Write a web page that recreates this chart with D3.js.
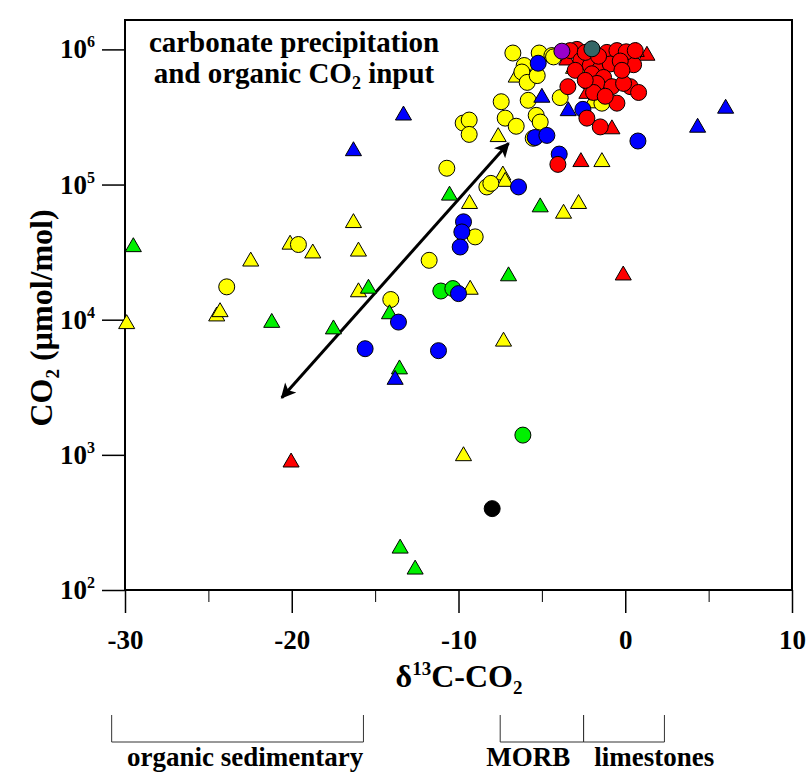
<!DOCTYPE html>
<html>
<head>
<meta charset="UTF-8">
<title>CO2 vs d13C-CO2</title>
<script src="https://cdn.jsdelivr.net/npm/d3@7/dist/d3.min.js"></script>
<style>
    body { margin: 0; background: #fff; }
    text { font-family: "Liberation Serif", "Times New Roman", serif; font-weight: bold; fill: #000; }
</style>
</head>
<body>
<div id="chart"></div>
<script>
    // axis ticks
    const xTicks = [-30, -20, -10, 0, 10];
    const xMinorTicks = [-25, -15, -5, 5];
    const yTickExponents = [2, 3, 4, 5, 6];

    // samples: [d13C, CO2 umol/mol]
    const yellowTriangles = [
        [-29.9, 9.3e3], [-24.5, 1.06e4], [-24.3, 1.14e4], [-22.46, 2.7e4], [-20.1, 3.6e4],
        [-18.74, 3.1e4], [-16.3, 5.2e4], [-16.0, 3.2e4], [-16.0, 1.6e4], [-9.3, 1.67e4],
        [-7.3, 6.9e3], [-9.7, 980], [-9.34, 7.2e4], [-7.34, 1.17e5], [-7.2, 1.05e5],
        [-3.7, 6.1e4], [-2.8, 7.2e4], [-1.4, 1.47e5], [-7.62, 2.25e5], [-6.54, 6.2e5],
        [-3.1, 7.2e5], [-2.0, 4.0e5]
    ];
    const yellowCircles = [
        [-6.74, 9.4e5], [-5.16, 9.4e5], [-4.40, 9.0e5], [-6.06, 7.6e5], [-6.20, 6.8e5],
        [-5.88, 5.7e5], [-5.28, 6.4e5], [-5.82, 4.2e5], [-7.44, 4.1e5], [-7.20, 3.1e5],
        [-6.54, 2.7e5], [-5.34, 3.25e5], [-5.10, 2.9e5], [-5.52, 2.2e5], [-9.72, 2.85e5],
        [-9.36, 3.0e5], [-9.36, 2.35e5], [-3.90, 4.4e5], [-1.40, 4.0e5], [-10.70, 1.32e5],
        [-4.30, 8.8e5], [-2.70, 7.0e5], [-8.30, 9.6e4], [-8.06, 1.02e5], [-9.0, 4.1e4],
        [-11.76, 2.75e4], [-14.06, 1.41e4], [-19.6, 3.6e4], [-23.9, 1.75e4]
    ];
    const greenTriangles = [
        [-29.5, 3.45e4], [-21.2, 9.5e3], [-15.4, 1.7e4], [-17.5, 8.5e3], [-14.14, 1.1e4],
        [-13.54, 4.3e3], [-7.0, 2.1e4], [-5.1, 6.8e4], [-10.54, 8.3e4], [-13.5, 203], [-12.6, 142]
    ];
    const greenCircles = [[-11.06, 1.63e4], [-10.34, 1.7e4], [-6.14, 1.4e3]];
    const blueTriangles = [
        [-13.3, 3.25e5], [-16.3, 1.77e5], [-5.0, 4.4e5], [-3.42, 3.5e5], [4.34, 2.64e5],
        [6.02, 3.65e5], [-13.8, 3.6e3]
    ];
    const blueCircles = [
        [-5.22, 7.9e5], [-2.54, 3.6e5], [-5.4, 2.23e5], [-4.7, 2.31e5], [-3.96, 1.68e5],
        [0.76, 2.1e5], [-6.4, 9.6e4], [-9.7, 5.3e4], [-9.8, 4.46e4], [-9.9, 3.45e4],
        [-10.0, 1.56e4], [-13.6, 9.6e3], [-15.6, 6.1e3], [-11.2, 5.9e3], [-2.22, 5.7e5]
    ];
    const redTriangles = [
        [-20.04, 880], [-0.12, 2.13e4], [-2.66, 1.47e5], [-0.8, 2.57e5], [1.3, 9.0e5],
        [-1.7, 4.6e5], [-2.3, 4.7e5], [0.66, 9.6e5], [-3.5, 8.3e5]
    ];
    const redCircles = [
        [-4.04, 1.41e5], [-3.44, 5.3e5], [-2.30, 3.1e5], [-1.5, 2.67e5], [-0.5, 4.0e5],
        [0.3, 5.3e5], [0.8, 4.8e5], [0.5, 7.7e5], [-2.9, 1.0e6], [-1.1, 9.5e5],
        [-0.5, 9.8e5], [0.06, 9.6e5], [0.6, 9.8e5], [-3.3, 9.8e5], [-2.66, 8.3e5],
        [-2.1, 7.6e5], [-1.5, 7.2e5], [-0.9, 7.8e5], [-2.0, 6.6e5], [-1.3, 6.2e5],
        [-1.7, 5.6e5], [-0.8, 5.3e5], [-0.1, 5.6e5], [-1.9, 4.8e5], [-2.4, 9.5e5],
        [-1.6, 8.9e5], [-0.3, 8.2e5], [-3.0, 7.0e5], [-1.2, 4.5e5], [-0.2, 7.0e5], [-2.4, 5.9e5]
    ];
    const blackCircles = [[-7.98, 400]];
    const purpleCircles = [[-3.8, 9.7e5]];
    const tealCircles = [[-2.0, 1.01e6]];

    // trend arrow ends
    const arrowEnds = [[-20.6, 2650], [-7.0, 2.02e5]];

    // source ranges under the axis
    const bracketSpans = [[-30.8, -15.7], [-7.5, -2.5], [-2.5, 2.35]];
    const sourceLabels = [
        {text: "organic sedimentary", x: -22.8},
        {text: "MORB", x: -5.82},
        {text: "limestones", x: 1.74}
    ];

    const svgWidth = 808, svgHeight = 776;
    const plotLeft = 125, plotRight = 792, plotTop = 20, plotBottom = 590;

    const svg = d3.select("#chart").append("svg")
        .attr("width", svgWidth)
        .attr("height", svgHeight);

    const x = d3.scaleLinear().domain([-30, 10]).range([plotLeft, plotRight]);
    const y = d3.scaleLog().domain([100, 1.65e6]).range([plotBottom, plotTop]);

    // bottom axis, major + minor ticks
    const xAxis = svg.append("g")
        .attr("transform", `translate(0,${plotBottom})`)
        .call(d3.axisBottom(x).tickValues(xTicks).tickSize(23).tickSizeOuter(0)
            .tickPadding(17).tickFormat(d => String(d)));
    xAxis.select(".domain").remove();
    xAxis.selectAll("line").attr("stroke-width", 1.5);
    xAxis.selectAll("text").attr("font-size", 27).attr("font-family", null);

    const xMinor = svg.append("g")
        .attr("transform", `translate(0,${plotBottom})`)
        .call(d3.axisBottom(x).tickValues(xMinorTicks).tickSize(12).tickFormat(""));
    xMinor.select(".domain").remove();
    xMinor.selectAll("line").attr("stroke-width", 1);

    // left axis, log decades
    const yAxis = svg.append("g")
        .attr("transform", `translate(${plotLeft},0)`)
        .call(d3.axisLeft(y).tickValues(yTickExponents.map(e => Math.pow(10, e)))
            .tickSize(23).tickSizeOuter(0).tickFormat(""));
    yAxis.select(".domain").remove();
    yAxis.selectAll("line").attr("stroke-width", 1.5);

    const yLabels = svg.append("g").selectAll("text")
        .data(yTickExponents)
        .enter().append("text")
        .attr("x", 95)
        .attr("y", e => y(Math.pow(10, e)) + 9)
        .attr("text-anchor", "end")
        .attr("font-size", 27);
    yLabels.append("tspan").text("10");
    yLabels.append("tspan").attr("dy", -11).attr("font-size", 16).text(e => e);

    // frame
    svg.append("rect")
        .attr("x", plotLeft).attr("y", plotTop)
        .attr("width", plotRight - plotLeft).attr("height", plotBottom - plotTop)
        .attr("fill", "none").attr("stroke", "#000").attr("stroke-width", 2);

    // arrow
    const defs = svg.append("defs");
    defs.append("marker")
        .attr("id", "head")
        .attr("viewBox", "0 0 10 10")
        .attr("refX", 9).attr("refY", 5)
        .attr("markerWidth", 6).attr("markerHeight", 5)
        .attr("markerUnits", "strokeWidth")
        .attr("orient", "auto-start-reverse")
        .append("path").attr("d", "M0,0 L10,5 L0,10 L2.5,5 Z").attr("fill", "#000");

    svg.append("line")
        .attr("x1", x(arrowEnds[0][0])).attr("y1", y(arrowEnds[0][1]))
        .attr("x2", x(arrowEnds[1][0])).attr("y2", y(arrowEnds[1][1]))
        .attr("stroke", "#000").attr("stroke-width", 3)
        .attr("marker-start", "url(#head)").attr("marker-end", "url(#head)");

    // markers
    const triangle = d3.symbol().type(d3.symbolTriangle).size(112);
    const series = [
        {data: yellowTriangles, shape: "tri", fill: "#ffff00"},
        {data: yellowCircles, shape: "circle", fill: "#ffff00"},
        {data: greenTriangles, shape: "tri", fill: "#00f000"},
        {data: greenCircles, shape: "circle", fill: "#00f000"},
        {data: blueTriangles, shape: "tri", fill: "#0000ff"},
        {data: blueCircles, shape: "circle", fill: "#0000ff"},
        {data: redTriangles, shape: "tri", fill: "#ff0000"},
        {data: redCircles, shape: "circle", fill: "#ff0000"},
        {data: blackCircles, shape: "circle", fill: "#000000"},
        {data: purpleCircles, shape: "circle", fill: "#9900cc"},
        {data: tealCircles, shape: "circle", fill: "#336666"}
    ];

    const marks = svg.append("g");
    series.forEach(s => {
        if (s.shape === "circle") {
            marks.selectAll(null)
                .data(s.data)
                .enter().append("circle")
                .attr("cx", d => x(d[0]))
                .attr("cy", d => y(d[1]))
                .attr("r", 8)
                .attr("fill", s.fill)
                .attr("stroke", "#000").attr("stroke-width", 1);
        } else {
            marks.selectAll(null)
                .data(s.data)
                .enter().append("path")
                .attr("d", triangle)
                .attr("transform", d => `translate(${x(d[0])},${y(d[1])})`)
                .attr("fill", s.fill)
                .attr("stroke", "#000").attr("stroke-width", 1);
        }
    });

    // annotation
    const note = svg.append("text")
        .attr("x", 294).attr("y", 52)
        .attr("text-anchor", "middle")
        .attr("font-size", 29);
    note.append("tspan").text("carbonate precipitation");
    const note2 = svg.append("text")
        .attr("x", 294).attr("y", 83)
        .attr("text-anchor", "middle")
        .attr("font-size", 29);
    note2.append("tspan").text("and organic CO");
    note2.append("tspan").attr("dy", 6).attr("font-size", 18).text("2");
    note2.append("tspan").attr("dy", -6).text(" input");

    // axis titles
    const xTitle = svg.append("text")
        .attr("x", 459).attr("y", 687)
        .attr("text-anchor", "middle")
        .attr("font-size", 32);
    xTitle.append("tspan").text("δ");
    xTitle.append("tspan").attr("dy", -12).attr("font-size", 19).text("13");
    xTitle.append("tspan").attr("dy", 12).text("C-CO");
    xTitle.append("tspan").attr("dy", 7).attr("font-size", 19).text("2");

    const yTitle = svg.append("text")
        .attr("transform", "translate(52,318) rotate(-90)")
        .attr("text-anchor", "middle")
        .attr("font-size", 32);
    yTitle.append("tspan").text("CO");
    yTitle.append("tspan").attr("dy", 7).attr("font-size", 19).text("2");
    yTitle.append("tspan").attr("dy", -7).text(" (µmol/mol)");

    // source brackets
    const bTop = 715, bBottom = 742;
    svg.append("g").selectAll("path")
        .data(bracketSpans)
        .enter().append("path")
        .attr("d", d => `M${x(d[0])},${bTop}V${bBottom}H${x(d[1])}V${bTop}`)
        .attr("fill", "none").attr("stroke", "#333").attr("stroke-width", 1);

    svg.append("g").selectAll("text")
        .data(sourceLabels)
        .enter().append("text")
        .attr("x", d => x(d.x))
        .attr("y", 766)
        .attr("text-anchor", "middle")
        .attr("font-size", 27)
        .text(d => d.text);
</script>
</body>
</html>
